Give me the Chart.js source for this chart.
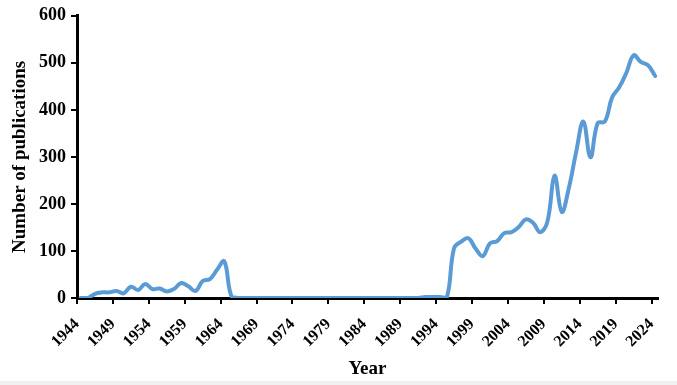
<!DOCTYPE html>
<html>
<head>
<meta charset="utf-8">
<script src="https://cdn.jsdelivr.net/npm/chart.js@4.4.1/dist/chart.umd.min.js"></script>
<style>
    html, body { margin: 0; padding: 0; background: #fff; }
    #wrap { width: 677px; height: 385px; position: relative; }
    #wrap::after { content: ''; position: absolute; left: 0; right: 0; bottom: 0; height: 4px; background: #f1f1f1; }
</style>
</head>
<body>
<div id="wrap"><canvas id="pubChart" width="677" height="385"></canvas></div>
<script>
// yearly publication counts, 1944 - 2024
const years = [];
for (let y = 1944; y <= 2024; y++) years.push(y);

const publications = [
    0, 0, 9, 12, 12, 15, 10, 24, 17, 30,          // 1944-1953
    19, 20, 14, 19, 32, 25, 15, 36, 40, 60,       // 1954-1963
    78, 4, 0, 0, 0, 0, 0, 0, 0, 0,                // 1964-1973
    0, 0, 0, 0, 0, 0, 0, 0, 0, 0,                 // 1974-1983
    0, 0, 0, 0, 0, 0, 0, 0, 2, 2,                 // 1984-1993
    2, 1, 106, 120, 127, 105, 89, 116, 121, 138,  // 1994-2003
    140, 151, 167, 160, 140, 162, 260, 183, 235, 310, // 2004-2013
    375, 299, 372, 375, 426, 448, 479, 516, 502, 495, // 2014-2023
    472                                           // 2024
];

const tickYears = [1944, 1949, 1954, 1959, 1964, 1969, 1974, 1979, 1984, 1989, 1994, 1999, 2004, 2009, 2014, 2019, 2024];
const yTicks = [0, 100, 200, 300, 400, 500, 600];

// each year sits in the middle of its slot, ticks mark the slot start
const points = years.map((y, i) => ({ x: y + 0.5, y: publications[i] }));

const serif = 'Liberation Serif, Times New Roman, serif';

const ctx = document.getElementById('pubChart').getContext('2d');
new Chart(ctx, {
    type: 'line',
    data: {
        datasets: [{
            label: 'Number of publications',
            data: points,
            borderColor: '#5b9bd5',
            borderWidth: 4,
            borderCapStyle: 'round',
            borderJoinStyle: 'round',
            pointRadius: 0,
            tension: 0.4,
            fill: false
        }]
    },
    options: {
        responsive: false,
        animation: false,
        layout: { padding: { top: 15, right: 19, left: 0, bottom: 0 } },
        plugins: { legend: { display: false }, tooltip: { enabled: false } },
        scales: {
            x: {
                type: 'linear',
                min: 1944,
                max: 2024.9,
                afterBuildTicks: function(scale) {
                    scale.ticks = tickYears.map(v => ({ value: v }));
                },
                afterFit: function(scale) { scale.height = 87; },
                border: { display: true, color: '#000', width: 3 },
                grid: { drawOnChartArea: false, drawTicks: true, tickLength: 6, color: '#000', lineWidth: 2 },
                ticks: {
                    autoSkip: false,
                    minRotation: 45,
                    maxRotation: 45,
                    padding: 11,
                    color: '#000',
                    font: { family: serif, size: 16, weight: 'bold' },
                    callback: v => String(v)
                },
                title: {
                    display: true,
                    text: 'Year',
                    color: '#000',
                    font: { family: serif, size: 19, weight: 'bold' },
                    padding: { top: 0, bottom: 5 }
                }
            },
            y: {
                min: 0,
                max: 600,
                afterBuildTicks: function(scale) {
                    scale.ticks = yTicks.map(v => ({ value: v }));
                },
                afterFit: function(scale) { scale.width = 77; },
                border: { display: true, color: '#000', width: 3 },
                grid: { drawOnChartArea: false, drawTicks: true, tickLength: 6, color: '#000', lineWidth: 2 },
                ticks: {
                    padding: 5,
                    color: '#000',
                    font: { family: serif, size: 18, weight: 'bold' }
                },
                title: {
                    display: true,
                    text: 'Number of publications',
                    color: '#000',
                    font: { family: serif, size: 19, weight: 'bold' },
                    padding: { top: 9, bottom: 0 }
                }
            }
        }
    }
});
</script>
</body>
</html>
